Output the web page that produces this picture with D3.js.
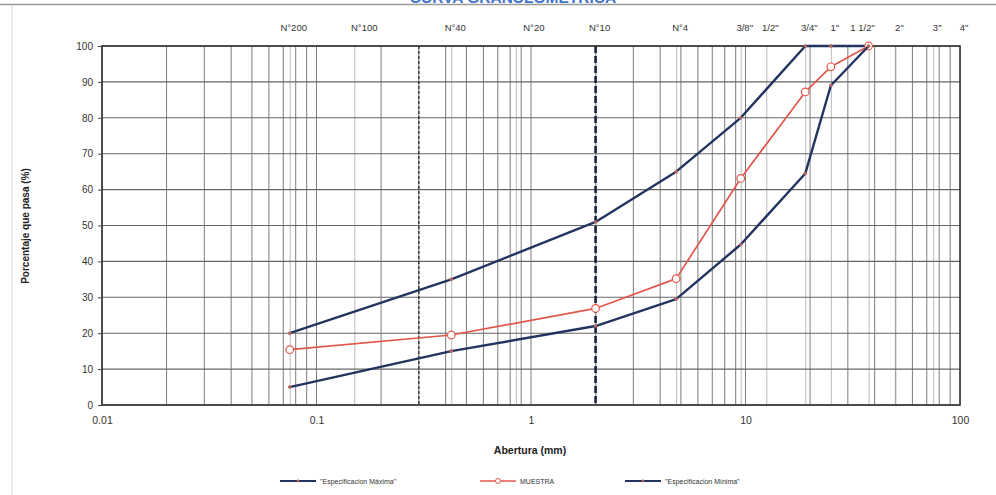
<!DOCTYPE html>
<html>
<head>
<meta charset="utf-8">
<script src="https://cdn.jsdelivr.net/npm/d3@7"></script>
<style>
  html, body { margin: 0; padding: 0; background: #fff; }
  svg { display: block; font-family: Arial, "Liberation Sans", sans-serif; }
</style>
</head>
<body>
<svg id="chart" width="996" height="495"></svg>
<script>
// Sieve openings (mm) where the gradation was measured
const sizes = [0.075, 0.425, 2.0, 4.75, 9.5, 19, 25, 37.5];
// Percentage passing for each curve
const specMax = [20, 35, 51, 65, 80, 100, 100, 100];
const sample  = [15.4, 19.5, 26.9, 35.2, 63.1, 87.2, 94.2, 100];
const specMin = [5, 15, 22, 29.5, 44.7, 64.5, 89, 100];

// Standard sieve names and openings shown above the plot
const sieveNames = ["N°200", "N°100", "N°40", "N°20", "N°10", "N°4", "3/8\"", "1/2\"", "3/4\"", "1\"", "1 1/2\"", "2\"", "3\"", "4\""];
const sieveSizes = [0.075, 0.15, 0.425, 0.85, 2.0, 4.75, 9.5, 12.5, 19, 25, 37.5, 50, 75, 100];

const yTicks = [0, 10, 20, 30, 40, 50, 60, 70, 80, 90, 100];
const xTicks = [0.01, 0.1, 1, 10, 100];
const seriesNames = ["\"Especificacion Máxima\"", "MUESTRA", "\"Especificacion Mínima\""];

const svg = d3.select("#chart");
const plotL = 102, plotR = 960, plotT = 46, plotB = 405;

const x = d3.scaleLog().domain([0.01, 100]).range([plotL, plotR]);
const y = d3.scaleLinear().domain([0, 100]).range([plotB, plotT]);

const navy = "#22345f";
const red = "#e2574c";

// Page frame lines
svg.append("line").attr("x1", 0).attr("x2", 996).attr("y1", 4.5).attr("y2", 4.5)
  .attr("stroke", "#9a9a9a").attr("stroke-width", 1.5);
svg.append("line").attr("x1", 12).attr("x2", 12).attr("y1", 5).attr("y2", 495)
  .attr("stroke", "#d8d8d8").attr("stroke-width", 1);

// Title (sits at the very top edge of the sheet)
svg.append("text").attr("x", 513).attr("y", 3).attr("text-anchor", "middle")
  .attr("font-size", 15.5).attr("font-weight", "bold").attr("fill", "#3f74c9")
  .text("CURVA GRANULOMETRICA");

const g = svg.append("g");

// Logarithmic minor grid
const minor = [];
for (let e = -2; e < 2; e++) for (let m = 1; m <= 9; m++) minor.push(m * Math.pow(10, e));
g.selectAll(".vgrid").data(minor).join("line")
  .attr("x1", d => x(d)).attr("x2", d => x(d)).attr("y1", plotT).attr("y2", plotB)
  .attr("stroke", "#7c7c7c").attr("stroke-width", 1);

// Sieve reference lines
g.selectAll(".sgrid").data(sieveSizes).join("line")
  .attr("x1", d => x(d) + 0.5).attr("x2", d => x(d) + 0.5).attr("y1", plotT).attr("y2", plotB)
  .attr("stroke", "#bcbcbc").attr("stroke-width", 1);

// Horizontal grid
g.selectAll(".hgrid").data(yTicks).join("line")
  .attr("x1", plotL).attr("x2", plotR).attr("y1", d => y(d)).attr("y2", d => y(d))
  .attr("stroke", "#666").attr("stroke-width", 1.1);

// Limits: 0.3 mm (dotted) and 2.0 mm (dashed)
g.append("line").attr("x1", x(0.3)).attr("x2", x(0.3)).attr("y1", plotT).attr("y2", plotB)
  .attr("stroke", "#222").attr("stroke-width", 1.2).attr("stroke-dasharray", "3,2");
g.append("line").attr("x1", x(2.0)).attr("x2", x(2.0)).attr("y1", plotT).attr("y2", plotB)
  .attr("stroke", "#1a2340").attr("stroke-width", 2.6).attr("stroke-dasharray", "7,3");

// Plot frame
g.append("rect").attr("x", plotL).attr("y", plotT).attr("width", plotR - plotL).attr("height", plotB - plotT)
  .attr("fill", "none").attr("stroke", "#333").attr("stroke-width", 1.6);

// Y axis
const yAxis = d3.axisLeft(y).tickValues(yTicks).tickSize(4).tickPadding(5);
const ya = svg.append("g").attr("transform", `translate(${plotL},0)`).call(yAxis);
ya.select(".domain").remove();
ya.selectAll("line").attr("stroke", "#444");
ya.selectAll("text").attr("font-size", 10).attr("fill", "#333").attr("font-family", "Arial, sans-serif");

// X axis
const xAxis = d3.axisBottom(x).tickValues(xTicks).tickSize(0).tickPadding(12).tickFormat(d => String(d));
const xa = svg.append("g").attr("transform", `translate(0,${plotB})`).call(xAxis);
xa.select(".domain").remove();
xa.selectAll("text").attr("font-size", 10.5).attr("fill", "#333").attr("font-family", "Arial, sans-serif");

// Sieve labels above the plot
const nudge = { "N°20": 14, "1 1/2\"": -10, "N°100": 6 };
svg.selectAll(".sieve").data(sieveNames).join("text")
  .attr("x", (d, i) => x(sieveSizes[i]) + 4 + (nudge[d] || 0))
  .attr("y", 31).attr("text-anchor", "middle")
  .attr("font-size", 9.5).attr("fill", "#333").text(d => d);

// Axis titles
svg.append("text").attr("x", 530).attr("y", 454).attr("text-anchor", "middle")
  .attr("font-size", 10.5).attr("font-weight", "bold").attr("fill", "#222").text("Abertura (mm)");
svg.append("text").attr("transform", "translate(29,226) rotate(-90)").attr("text-anchor", "middle")
  .attr("font-size", 10).attr("font-weight", "bold").attr("fill", "#222").text("Porcentaje que pasa (%)");

// Curves
const line = d3.line().x(d => x(d[0])).y(d => y(d[1]));
const curves = [
  { values: specMax, color: navy, width: 2.4, open: false },
  { values: sample, color: red, width: 1.7, open: true },
  { values: specMin, color: navy, width: 2.4, open: false }
];
const plot = svg.append("g");
curves.forEach(c => {
  const pts = sizes.map((s, i) => [s, c.values[i]]);
  plot.append("path").datum(pts).attr("d", line)
    .attr("fill", "none").attr("stroke", c.color).attr("stroke-width", c.width)
    .attr("stroke-linejoin", "round");
  if (c.open) {
    plot.selectAll(null).data(pts).join("circle")
      .attr("cx", d => x(d[0])).attr("cy", d => y(d[1])).attr("r", 3.8)
      .attr("fill", "#fff").attr("stroke", c.color).attr("stroke-width", 1.2);
  } else {
    plot.selectAll(null).data(pts).join("circle")
      .attr("cx", d => x(d[0])).attr("cy", d => y(d[1])).attr("r", 1.8)
      .attr("fill", "#b6645c");
  }
});

// Legend
const legendX = [280, 480, 625];
const leg = svg.selectAll(".leg").data(curves).join("g")
  .attr("transform", (d, i) => `translate(${legendX[i]},481)`);
leg.append("line").attr("x1", 0).attr("x2", 36).attr("y1", 0).attr("y2", 0)
  .attr("stroke", d => d.color).attr("stroke-width", d => d.open ? 1.3 : 2);
leg.filter(d => d.open).append("circle").attr("cx", 18).attr("cy", 0).attr("r", 2.5)
  .attr("fill", "#fff").attr("stroke", red).attr("stroke-width", 1);
leg.filter(d => !d.open).append("circle").attr("cx", 18).attr("cy", 0).attr("r", 1.4)
  .attr("fill", "#b6645c");
leg.append("text").attr("x", 40).attr("y", 2.5).attr("font-size", 7).attr("fill", "#333")
  .text((d, i) => seriesNames[i]);
</script>
</body>
</html>
